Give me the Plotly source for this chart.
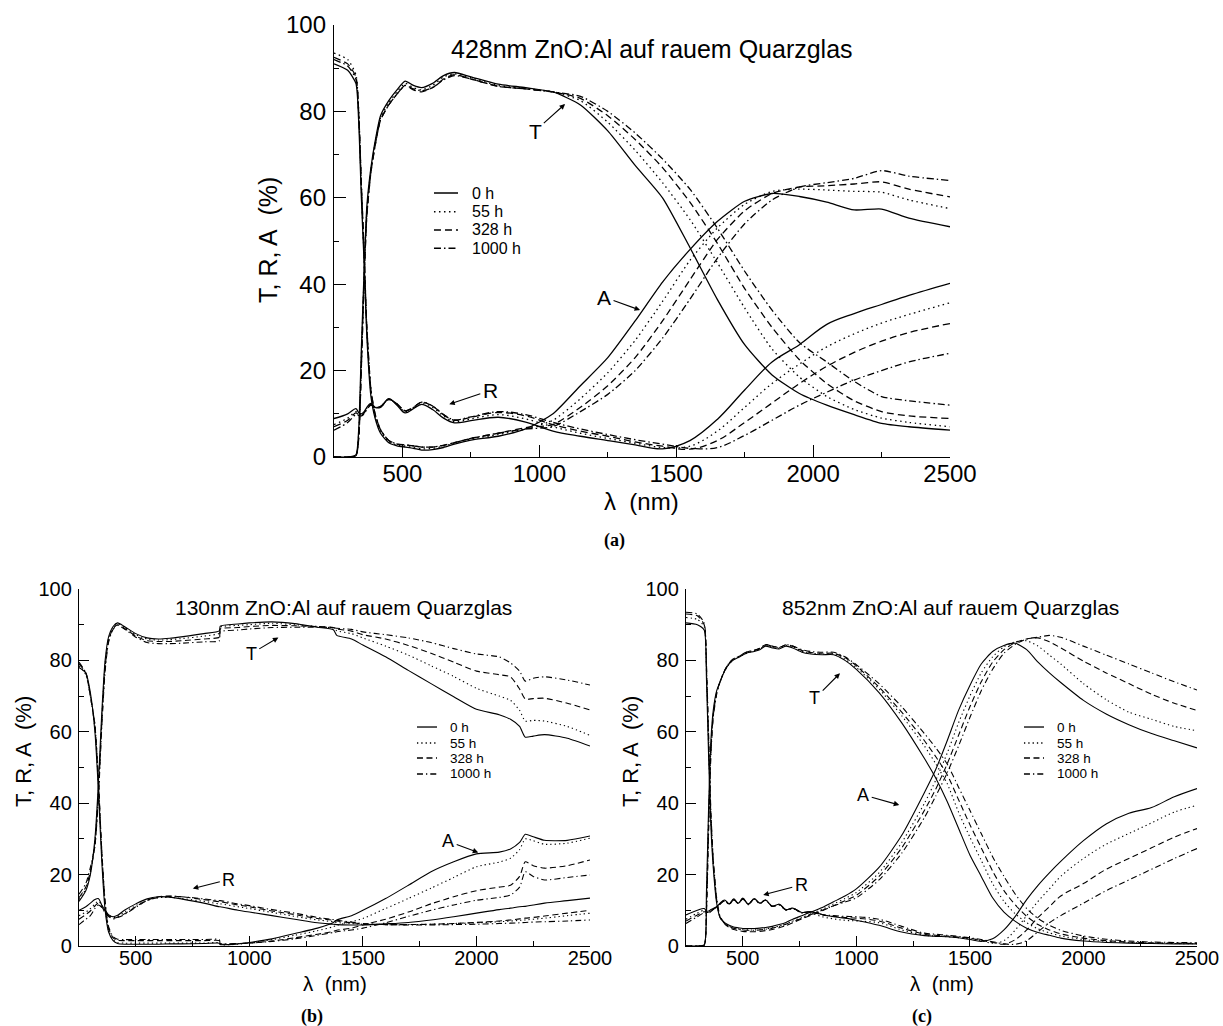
import plotly.graph_objects as go

FIG_W, FIG_H = 1223, 1026

# ------------------------------------------------------------------ data
HOURS = ["0 h", "55 h", "328 h", "1000 h"]
X_TICKS = [500, 1000, 1500, 2000, 2500]
X_MINOR = [750, 1250, 1750, 2250]
Y_TICKS = [0, 20, 40, 60, 80, 100]
Y_MINOR = [10, 30, 50, 70, 90]
TITLE_A = "428nm ZnO:Al auf rauem Quarzglas"
TITLE_B = "130nm ZnO:Al auf rauem Quarzglas"
TITLE_C = "852nm ZnO:Al auf rauem Quarzglas"

# ---- panel (a): 428 nm
WL_A = [250, 300, 330, 340, 350, 360, 370, 385, 400, 420, 450, 480, 510, 540, 570, 610, 650, 690, 750, 850,
        950, 1050, 1150, 1250, 1350, 1450, 1550, 1650, 1750, 1850, 1950, 2050, 2150, 2250, 2350, 2500]
T_A_0 = [0, 0, 0.5, 6, 25, 43, 58, 67, 73, 79, 82.5, 85, 87, 86, 85.5, 86.5, 88.3, 89, 88, 86.3,
         85.5, 84.5, 81.5, 75.5, 67.5, 60, 48.5, 36.5, 26, 19, 14.7, 12, 9.8, 7.8, 7, 6.2]
T_A_55 = [0, 0, 0.3, 5, 23, 42, 57, 66.5, 72.5, 78.5, 82, 84.5, 86.5, 85.5, 85, 86, 88, 88.7, 87.8, 86,
          85.3, 84.5, 82.5, 77.5, 71, 63.5, 55, 45, 34.5, 25, 18.5, 14, 11, 9, 8, 7]
T_A_328 = [0, 0, 0.3, 4, 21, 41, 56, 66, 72, 78, 81.5, 84, 86, 85, 84.5, 85.5, 87.5, 88.5, 87.5, 85.8,
           85.2, 84.5, 83, 79, 73.5, 67, 59, 49.5, 39, 30, 22.5, 17, 13, 10.5, 9.5, 8.9]
T_A_1000 = [0, 0, 0.3, 4, 21, 41, 56, 66, 72, 78, 81.5, 84, 86, 85.2, 84.8, 85.5, 87.3, 88.3, 87.5, 85.8,
            85.2, 84.5, 83.5, 80, 75, 69, 62, 53, 43, 34, 26.5, 22, 17.5, 14, 13, 12]
R_A_0 = [8.9, 10, 11.2, 10.3, 10, 10.5, 11.5, 12.4, 11.5, 11.5, 13.5, 12, 10.2, 11.2, 12.2, 11, 9, 7.9, 8.4, 9.2,
         8.1, 6, 4.8, 3.8, 2.8, 1.9, 3.8, 8.7, 15.5, 22, 26, 30.7, 33.2, 35.3, 37.4, 40.2]
R_A_55 = [7.5, 9, 10.5, 10, 9.8, 10.3, 11.3, 12.2, 11.5, 11.6, 13.4, 12.2, 10.5, 11.3, 12.5, 11.5, 9.5, 8.2, 8.8, 9.8,
          8.8, 7, 5.5, 4.3, 3.2, 2.2, 2.5, 6, 11.5, 17, 21.5, 25.5, 28.5, 31, 33, 35.7]
R_A_328 = [7, 8.5, 10.2, 9.8, 9.6, 10.2, 11.2, 12.1, 11.5, 11.7, 13.3, 12.3, 10.7, 11.5, 12.7, 11.8, 9.8, 8.5, 9.2, 10.3,
           9.5, 7.5, 6, 4.8, 3.5, 2.5, 1.8, 3.8, 8, 12.5, 17, 21, 24.2, 26.8, 28.8, 30.9]
R_A_1000 = [6.2, 8, 9.8, 9.6, 9.5, 10, 11, 12, 11.5, 11.7, 13.3, 12.3, 10.7, 11.5, 12.7, 11.8, 9.8, 8.6, 9.3, 10.5,
            9.8, 8, 6.5, 5.2, 4, 3, 2, 2.2, 5, 8.5, 12, 15, 17.8, 20, 22, 24]
A_A_0 = [91, 89.5, 86.5, 78, 60, 45, 28, 14, 9, 5.5, 3.3, 2.6, 2.3, 2, 1.6, 1.7, 2.2, 3, 3.9, 4.8,
         6.5, 10, 16.5, 23, 31.5, 40.5, 48, 54.5, 59.2, 61, 60.3, 59, 57.2, 57.4, 55.3, 53.3]
A_A_55 = [93.5, 92, 88.5, 80, 62, 46, 29, 15, 9.5, 6, 3.5, 2.8, 2.5, 2.2, 1.9, 2, 2.5, 3.2, 4.2, 5.2,
          6.5, 8.5, 13.5, 19.5, 27, 36, 45.5, 53, 58.5, 61.5, 62, 61.8, 61.5, 61.3, 59.5, 57.5]
A_A_328 = [92.5, 91, 88, 80, 63, 47, 30, 15.5, 10, 6.3, 3.8, 3, 2.8, 2.6, 2.3, 2.3, 2.7, 3.3, 4.3, 5.5,
           6.8, 7.5, 11.5, 16.5, 23, 31.5, 41, 50.3, 57, 61, 62.5, 62.8, 63.2, 63.7, 62, 60.2]
A_A_1000 = [92, 90.5, 87.5, 80, 63, 47, 30, 15.5, 10, 6.3, 3.8, 3, 2.8, 2.6, 2.3, 2.3, 2.7, 3.3, 4.3, 5.5,
            6.5, 7, 10.5, 14.5, 20, 27.5, 36.5, 46, 54, 59.5, 62.5, 63.5, 64.5, 66.3, 65, 64]

# ---- panel (b): 130 nm
WL_B = [250, 280, 300, 320, 335, 350, 365, 380, 400, 420, 450, 500, 550, 600, 650, 700, 800, 868, 872, 950,
        1000, 1100, 1200, 1300, 1370, 1385, 1450, 1500, 1600, 1700, 1800, 1900, 2000, 2100, 2150, 2190, 2215,
        2250, 2300, 2400, 2500]
T_B_0 = [12.5, 15.5, 20, 30, 45, 65, 80, 86.5, 89.5, 90.5, 89.5, 87.5, 86.3, 86, 86.2, 86.6, 87.5, 88.3, 89.6, 90.2,
         90.5, 90.8, 90.3, 89.3, 88.6, 87, 86, 84.3, 81, 77.2, 73.5, 69.8, 66.3, 64.8, 63.5, 61.5, 58.5,
         58.8, 59.2, 58.2, 56]
T_B_55 = [13, 16, 20.5, 29, 43, 63, 79, 86, 89.3, 90.3, 89.3, 87.2, 86, 85.7, 85.8, 86.1, 86.8, 87.6, 89.3, 89.8,
          90, 90.4, 90, 89.5, 89, 88.3, 87.5, 86.3, 84, 81.5, 78.5, 75.5, 72.2, 70, 68.8, 66, 63,
          63.2, 63, 61.5, 59]
T_B_328 = [13.5, 16.5, 21, 28, 42, 62, 78, 85.5, 89, 90, 89, 86.8, 85.5, 85.3, 85.3, 85.5, 86, 86.5, 88.8, 89.2,
           89.5, 89.8, 89.7, 89.5, 89.2, 88.8, 88.2, 87.2, 86, 84.2, 82, 79.5, 77, 76, 75.4, 72, 69.2,
           69.3, 69.4, 68, 66.1]
T_B_1000 = [14.5, 17.5, 22, 28, 41, 61, 77, 85, 88.7, 89.8, 88.8, 86.5, 85, 84.7, 84.7, 84.8, 85.2, 85.5, 88, 88.5,
            88.8, 89.2, 89.3, 89.3, 89.2, 89, 88.7, 88, 87.2, 86.3, 85, 83.3, 81.8, 81, 79.3, 77, 74.2,
            75, 75.4, 74.5, 73.1]
R_B_0 = [10, 11, 12, 13, 13.3, 11.5, 10, 8.8, 8.2, 8.6, 10, 11.8, 13.2, 13.8, 13.7, 13.2, 12, 11, 11, 10,
         9.5, 8.5, 7.5, 6.5, 6.1, 6, 5.9, 5.9, 6.2, 6.6, 7.3, 8.2, 9.2, 10.2, 10.6, 11, 11.1,
         11.5, 12, 12.7, 13.4]
R_B_55 = [8.5, 9.5, 10.5, 11.8, 12.5, 11.5, 9.8, 8.8, 8, 8.3, 9.5, 11.3, 12.8, 13.5, 13.6, 13.3, 12.5, 11.8, 11.8, 11,
          10.5, 9.4, 8.3, 7.3, 6.8, 6.6, 6.3, 6.1, 6, 6, 6.1, 6.3, 6.5, 6.8, 7, 7.2, 7.3,
          7.5, 7.8, 8.5, 9.2]
R_B_328 = [7.5, 8.8, 9.8, 11.2, 12, 11, 9.5, 8.5, 7.8, 8.1, 9, 11, 12.8, 13.8, 14, 13.8, 13, 12.4, 12.4, 11.5,
           11, 9.8, 8.8, 7.7, 7.2, 7, 6.5, 6.2, 6, 6, 6.1, 6.3, 6.6, 7, 7.3, 7.6, 7.8,
           8, 8.4, 9.2, 10]
R_B_1000 = [6, 7.5, 8.5, 10.5, 11.5, 10.8, 9.3, 8.3, 7.6, 8, 8.8, 10.8, 12.7, 13.6, 13.9, 13.8, 13.2, 12.7, 12.7, 11.8,
            11.3, 10.2, 9.2, 8, 7.4, 7.2, 6.7, 6.3, 6, 5.9, 5.9, 6, 6.1, 6.3, 6.4, 6.5, 6.6,
            6.7, 6.8, 7, 7.3]
A_B_0 = [78, 76.5, 71, 60, 44, 24, 10, 4, 1.5, 0.7, 0.5, 0.5, 0.5, 0.5, 0.6, 0.6, 0.7, 0.8, 0.4, 0.6,
         1, 2, 3.5, 5, 6.6, 7.3, 8.5, 10, 13.3, 17, 20.8, 23.6, 25.8, 26.3, 27.2, 29, 31.3,
         30.6, 29.6, 29.6, 30.8]
A_B_55 = [78.5, 76, 70, 61, 46, 26, 11, 4.5, 1.8, 1, 0.8, 0.8, 0.8, 0.8, 0.8, 0.8, 0.8, 0.9, 0.4, 0.5,
          0.9, 1.8, 3, 4.3, 5.4, 5.8, 6.8, 7.7, 10.5, 13.3, 16.2, 19.2, 22.2, 23.5, 24.6, 27, 30,
          29.5, 28.5, 28.8, 30.2]
A_B_328 = [79, 76.5, 70, 62, 47, 27, 12, 5, 2.3, 1.6, 1.5, 1.5, 1.5, 1.5, 1.5, 1.5, 1.5, 1.5, 0.6, 0.7,
           0.8, 1.4, 2.3, 3.3, 4.1, 4.4, 5, 5.9, 7.5, 9.5, 11.8, 13.8, 15.5, 16.5, 17, 19.5, 23.6,
           22.5, 21.8, 22.5, 24.1]
A_B_1000 = [79.5, 76.5, 70, 62, 47, 27, 12.5, 5.5, 2.6, 1.9, 1.8, 1.8, 1.8, 1.8, 1.8, 1.8, 1.8, 1.8, 0.7, 0.7,
            0.8, 1.3, 2, 3, 3.8, 4, 4.5, 5, 6.5, 8.3, 10, 11.5, 12.8, 13.6, 14.3, 16.5, 20.8,
            19.5, 18.5, 19.2, 19.9]

# ---- panel (c): 852 nm
WL_C = [250, 300, 330, 340, 350, 360, 370, 385, 400, 420, 440, 460, 480, 500, 525, 550, 575, 600, 630, 660,
        690, 720, 760, 800, 850, 900, 950, 1000, 1100, 1200, 1300, 1350, 1400, 1450, 1500, 1550, 1600, 1650,
        1700, 1750, 1800, 1850, 1900, 2000, 2100, 2200, 2300, 2400, 2500]
T_C_0 = [0, 0, 0.3, 15, 40, 58, 66, 71.5, 74, 77, 79, 80.2, 80.8, 81.5, 82.2, 82.5, 83, 84, 83.5, 83.2,
         84, 83.5, 82.3, 81.8, 81.6, 81.6, 80, 77.5, 71, 62.5, 52.5, 47, 40.5, 33, 25.5, 19.5, 13.5, 9.5,
         6.9, 5, 3.8, 3, 2.2, 1.4, 1, 0.8, 0.7, 0.6, 0.6]
T_C_55 = [0, 0, 0.2, 12, 37, 56, 65, 71, 74, 77, 79, 80.2, 80.8, 81.5, 82.2, 82.6, 83.2, 84.2, 83.7, 83.4,
          84.2, 83.8, 82.6, 82, 81.8, 81.8, 80.3, 78, 72, 64.5, 56, 51, 45.5, 37.5, 30.5, 24, 17.5, 12.5,
          9, 6.5, 4.8, 3.7, 2.8, 1.8, 1.3, 1, 0.8, 0.7, 0.6]
T_C_328 = [0, 0, 0.2, 10, 35, 55, 64.5, 71, 74, 77.2, 79.3, 80.5, 81, 81.8, 82.5, 82.8, 83.4, 84.4, 84, 83.6,
           84.4, 84, 82.8, 82.2, 82, 82, 80.8, 78.5, 72.5, 65.5, 57.5, 53, 48, 41, 34, 27.5, 21, 15.5,
           11.5, 8.3, 6, 4.5, 3.4, 2.2, 1.5, 1.1, 0.9, 0.8, 0.7]
T_C_1000 = [0, 0, 0.2, 9, 33, 54, 64, 70.5, 74, 77.2, 79.3, 80.5, 81, 81.8, 82.5, 82.8, 83.4, 84.4, 84, 83.6,
            84.4, 84, 83, 82.5, 82.3, 82.3, 81, 78.8, 73.5, 67, 59.5, 55.5, 51, 44.5, 38, 31.5, 25, 19.5,
            14.5, 10.5, 7.7, 5.8, 4.4, 2.8, 1.9, 1.4, 1.1, 1, 0.9]
R_C_0 = [8.7, 10, 10.5, 9.8, 9.8, 10.2, 10.5, 11, 12, 12.9, 11.8, 13.2, 12, 13.4, 11.7, 13.3, 12, 12.9, 11.1, 11.7,
         10.2, 10.6, 9.4, 9.6, 8.8, 8.2, 7.8, 7.2, 5.8, 3.9, 2.9, 2.7, 2.6, 2.3, 1.8, 1.3, 2, 4.5,
         8.3, 13, 17, 20.5, 23.7, 29.5, 34.2, 37.2, 38.8, 41.8, 44.1]
R_C_55 = [7.5, 9.2, 10, 9.6, 9.6, 10, 10.4, 11, 11.8, 12.7, 11.7, 13, 11.9, 13.2, 11.6, 13.1, 11.9, 12.8, 11, 11.5,
          10, 10.4, 9.2, 9.2, 8.2, 7.6, 7.2, 7, 6.5, 4.5, 3, 2.8, 2.6, 2.3, 2, 1.5, 0.8, 1.5,
          4.5, 8.5, 12.5, 16, 19.5, 24.5, 28.5, 31.5, 34.5, 37.5, 39.4]
R_C_328 = [7, 8.7, 9.6, 9.4, 9.4, 9.9, 10.3, 10.9, 11.8, 12.7, 11.8, 13, 12, 13.2, 11.8, 13.2, 12, 12.9, 11.2, 11.7,
           10.2, 10.6, 9.4, 9.6, 8.7, 8.3, 8, 7.8, 7, 5, 3.3, 3, 2.8, 2.5, 2.2, 1.6, 1, 0.5,
           1.8, 4.5, 8, 11, 14, 17.5, 21.5, 24.5, 27.5, 30.5, 32.9]
R_C_1000 = [6.3, 8.2, 9.3, 9.2, 9.2, 9.7, 10.2, 10.8, 11.7, 12.6, 11.7, 12.9, 11.9, 13.1, 11.7, 13.1, 11.9, 12.8, 11.1, 11.6,
            10.1, 10.5, 9.4, 9.6, 8.8, 8.5, 8.3, 8.2, 7.5, 5.5, 3.6, 3.3, 3, 2.7, 2.3, 1.8, 1.2, 0.6,
            0.5, 1.5, 4, 6.5, 8.5, 12, 15.5, 18.5, 21.5, 24.5, 27.3]
A_C_0 = [90.5, 90, 88.5, 75, 52, 33, 22, 12, 8, 6.5, 5.8, 5.3, 5.1, 4.9, 4.9, 4.9, 5, 5.2, 5.5, 6,
         6.6, 7.5, 8.5, 9.5, 10.8, 12.4, 14, 16, 22, 31, 43, 49.5, 57.5, 66, 73, 79, 82.5, 84.2,
         84.8, 83, 79.5, 76.5, 73.8, 68.8, 65, 62, 59.5, 57.5, 55.5]
A_C_55 = [92, 91.5, 89.5, 77, 55, 35, 23, 12.5, 8, 6.3, 5.5, 5, 4.8, 4.6, 4.5, 4.5, 4.6, 4.8, 5.1, 5.6,
          6.2, 7, 8, 9, 10.3, 11.8, 13.3, 15, 20.5, 29, 40, 46.5, 54, 62.5, 70, 76.5, 81, 83.8,
          85.2, 85.5, 84, 81.5, 79, 73.5, 69, 65.5, 63.5, 61.5, 60.3]
A_C_328 = [93, 92.5, 90, 78, 57, 36, 24, 13, 8, 6.2, 5.2, 4.6, 4.3, 4.1, 4, 4, 4.1, 4.3, 4.6, 5.1,
           5.7, 6.5, 7.6, 8.6, 9.9, 11.3, 12.7, 14.2, 19.5, 27.5, 38, 44, 51, 59, 67, 74, 79.5, 83,
           85, 86, 86.3, 85.2, 83.5, 79.8, 76.5, 73.5, 70.5, 68, 66]
A_C_1000 = [93.5, 93, 90.5, 79, 58, 37, 24.5, 13.5, 8.3, 6.4, 5.5, 5, 4.7, 4.5, 4.4, 4.4, 4.5, 4.7, 5, 5.5,
            6.1, 6.8, 7.8, 8.8, 10, 11.3, 12.3, 13.5, 18.5, 26, 36, 42, 48.5, 56, 64, 71.5, 77.5, 82,
            84.5, 86, 86.5, 87, 86.5, 84, 81.5, 79, 76.5, 74, 71.7]

# ------------------------------------------------------------------ layout helpers
SANS = "Liberation Sans, Arial, sans-serif"
SERIF = "Liberation Serif, DejaVu Serif, serif"
SMOOTH = {"T": 0.6, "R": 1.0, "A": 0.6}


def pxp(x, y):
    return x / FIG_W, 1 - y / FIG_H


PANELS = [
    dict(key="", wl=WL_A, title=TITLE_A, box=(334, 950, 25, 457),
         series={"T": [T_A_0, T_A_55, T_A_328, T_A_1000],
                 "R": [R_A_0, R_A_55, R_A_328, R_A_1000],
                 "A": [A_A_0, A_A_55, A_A_328, A_A_1000]},
         lw=1.3, dashes=["solid", "1.5px,3.5px", "7px,4px", "7px,3px,1.5px,3px"],
         tick_fs=24, ticklen=12, minorlen=5, xstand=-5, ystand=2,
         title_xy=(652, 49), title_fs=25,
         ytitle_xy=(268, 240), ytitle_fs=25, xtitle_xy=(641, 501), xtitle_fs=24,
         cap="(a)", cap_xy=(614, 540),
         leg_line=(0.1623, 0.2013), leg_text=0.2208, leg_rows=[0.6111, 0.5678, 0.5255, 0.4831], leg_fs=16,
         labels=[("T", 1094, 81.7, -30, 27), ("A", 1368, 34, -36, -13), ("R", 671, 12.2, 41, -14)],
         lab_fs=21),
    dict(key="2", wl=WL_B, title=TITLE_B, box=(79, 590, 589, 946),
         series={"T": [T_B_0, T_B_55, T_B_328, T_B_1000],
                 "R": [R_B_0, R_B_55, R_B_328, R_B_1000],
                 "A": [A_B_0, A_B_55, A_B_328, A_B_1000]},
         lw=1.1, dashes=["solid", "1.3px,3px", "6px,3.5px", "6px,3px,1.3px,3px"],
         tick_fs=20, ticklen=10, minorlen=4.5, xstand=-6, ystand=2,
         title_xy=(343.5, 607), title_fs=21,
         ytitle_xy=(23, 752), ytitle_fs=22, xtitle_xy=(335, 983), xtitle_fs=20.5,
         cap="(b)", cap_xy=(312, 1016),
         leg_line=(0.6614, 0.7006), leg_text=0.7221, leg_rows=[0.6134, 0.5686, 0.5266, 0.4818], leg_fs=13.5,
         labels=[("T", 1128, 86.4, -27, 16), ("A", 2008, 26.2, -30, -11), ("R", 751, 16.1, 36, -9)],
         lab_fs=18),
    dict(key="3", wl=WL_C, title=TITLE_C, box=(686, 1197, 589, 946),
         series={"T": [T_C_0, T_C_55, T_C_328, T_C_1000],
                 "R": [R_C_0, R_C_55, R_C_328, R_C_1000],
                 "A": [A_C_0, A_C_55, A_C_328, A_C_1000]},
         lw=1.1, dashes=["solid", "1.3px,3px", "6px,3.5px", "6px,3px,1.3px,3px"],
         tick_fs=20, ticklen=10, minorlen=4.5, xstand=-6, ystand=2,
         title_xy=(950.5, 607), title_fs=21,
         ytitle_xy=(630, 752), ytitle_fs=22, xtitle_xy=(941.5, 983), xtitle_fs=20.5,
         cap="(c)", cap_xy=(922, 1016),
         leg_line=(0.6614, 0.7006), leg_text=0.7221, leg_rows=[0.6134, 0.5686, 0.5266, 0.4818], leg_fs=13.5,
         labels=[("T", 928, 76.4, -25, 25), ("A", 1189, 39.5, -36, -10), ("R", 590, 14.3, 38, -10)],
         lab_fs=18),
]

fig = go.Figure()
annotations = []
shapes = []
layout_axes = {}

for p in PANELS:
    k = p["key"]
    xname, yname = "x" + k, "y" + k
    for comp in ("T", "R", "A"):
        for hi, vals in enumerate(p["series"][comp]):
            fig.add_trace(go.Scatter(
                x=p["wl"], y=vals, mode="lines", name=HOURS[hi], showlegend=False,
                line=dict(color="black", width=p["lw"], dash=p["dashes"][hi],
                          shape="spline", smoothing=SMOOTH[comp]),
                xaxis=xname, yaxis=yname, hoverinfo="skip"))

    x0, x1, y0, y1 = p["box"]
    common = dict(ticks="inside", tickcolor="black", tickwidth=1, ticklen=p["ticklen"],
                  showline=True, linecolor="black", linewidth=1.3, mirror=False,
                  showgrid=False, zeroline=False, fixedrange=True, automargin=False,
                  tickfont=dict(family=SANS, size=p["tick_fs"], color="black"))
    layout_axes["xaxis" + k] = dict(
        domain=[x0 / FIG_W, x1 / FIG_W], anchor=yname, range=[250, 2500],
        tickmode="array", tickvals=X_TICKS, ticklabelstandoff=p["xstand"],
        minor=dict(tickmode="array", tickvals=X_MINOR, ticks="inside", ticklen=p["minorlen"],
                   tickcolor="black", tickwidth=1), **common)
    layout_axes["yaxis" + k] = dict(
        domain=[1 - y1 / FIG_H, 1 - y0 / FIG_H], anchor=xname, range=[0, 100],
        tickmode="array", tickvals=Y_TICKS, ticklabelstandoff=p["ystand"],
        minor=dict(tickmode="array", tickvals=Y_MINOR, ticks="inside", ticklen=p["minorlen"],
                   tickcolor="black", tickwidth=1), **common)

    # titles / axis titles / caption
    tx, ty = pxp(*p["title_xy"])
    annotations.append(dict(text=p["title"], x=tx, y=ty, xref="paper", yref="paper", showarrow=False,
                            xanchor="center", yanchor="middle",
                            font=dict(family=SANS, size=p["title_fs"], color="black")))
    yx, yy = pxp(*p["ytitle_xy"])
    annotations.append(dict(text="T, R, A\u00a0 (%)", x=yx, y=yy, xref="paper", yref="paper",
                            showarrow=False, textangle=-90, xanchor="center", yanchor="middle",
                            font=dict(family=SANS, size=p["ytitle_fs"], color="black")))
    xx, xy = pxp(*p["xtitle_xy"])
    annotations.append(dict(text="\u03bb\u00a0 (nm)", x=xx, y=xy, xref="paper", yref="paper",
                            showarrow=False, xanchor="center", yanchor="middle",
                            font=dict(family=SANS, size=p["xtitle_fs"], color="black")))
    cx, cy = pxp(*p["cap_xy"])
    annotations.append(dict(text="<b>" + p["cap"] + "</b>", x=cx, y=cy, xref="paper", yref="paper",
                            showarrow=False, xanchor="center", yanchor="middle",
                            font=dict(family=SERIF, size=18, color="black")))

    # curve labels with arrows
    for (lab, lx, ly, ax, ay) in p["labels"]:
        annotations.append(dict(text=lab, x=lx, y=ly, xref=xname, yref=yname, showarrow=True,
                                ax=ax, ay=ay, arrowhead=2, arrowsize=1, arrowwidth=1.1,
                                arrowcolor="black", standoff=0, startstandoff=1,
                                font=dict(family=SANS, size=p["lab_fs"], color="black")))

    # legend
    for hi, row in enumerate(p["leg_rows"]):
        shapes.append(dict(type="line", xref=xname + " domain", yref=yname + " domain",
                           x0=p["leg_line"][0], x1=p["leg_line"][1], y0=row, y1=row,
                           line=dict(color="black", width=p["lw"] + 0.2, dash=p["dashes"][hi])))
        annotations.append(dict(text=HOURS[hi], x=p["leg_text"], y=row, xref=xname + " domain",
                                yref=yname + " domain", showarrow=False, xanchor="left", yanchor="middle",
                                font=dict(family=SANS, size=p["leg_fs"], color="black")))

fig.update_layout(
    template="none",
    width=FIG_W, height=FIG_H, autosize=False,
    margin=dict(l=0, r=0, t=0, b=0, pad=0),
    paper_bgcolor="white", plot_bgcolor="white",
    showlegend=False, hovermode=False,
    annotations=annotations, shapes=shapes,
    **layout_axes)

fig.write_html("out.html")
